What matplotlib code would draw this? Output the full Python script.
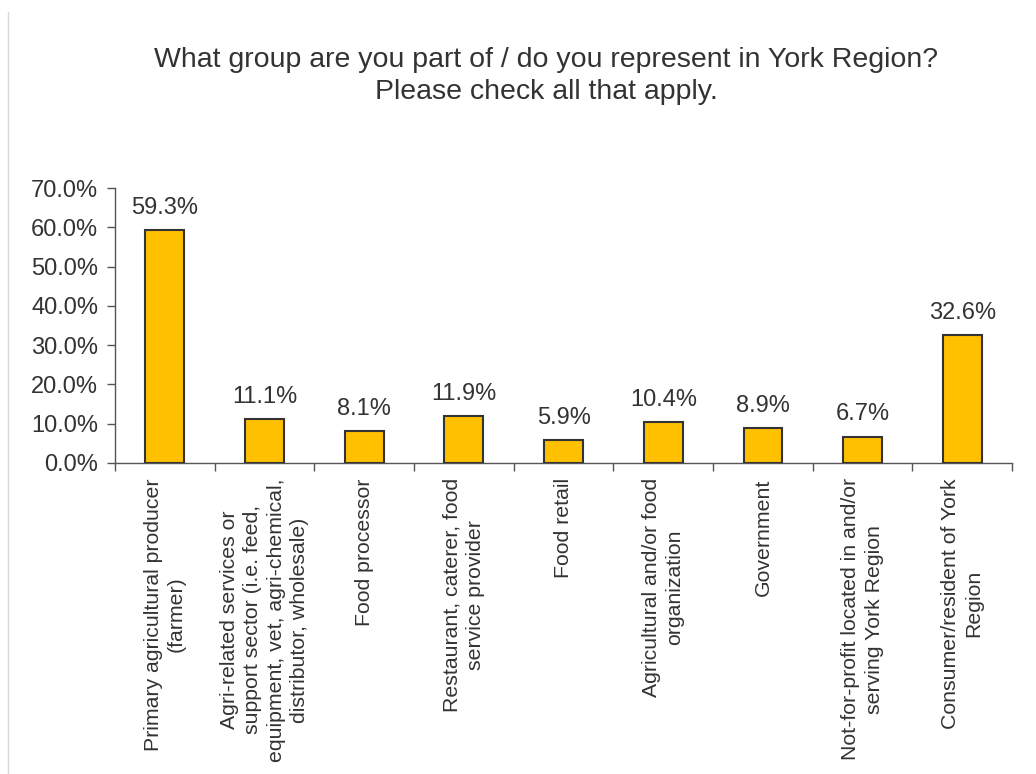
import numpy as np
import matplotlib.pyplot as plt
from matplotlib.lines import Line2D

plt.rcParams['font.family'] = ['Liberation Sans', 'DejaVu Sans']

# data
categories = [
    "Primary agricultural producer\n(farmer)",
    "Agri-related services or\nsupport sector (i.e. feed,\nequipment, vet, agri-chemical,\ndistributor, wholesale)",
    "Food processor",
    "Restaurant, caterer, food\nservice provider",
    "Food retail",
    "Agricultural and/or food\norganization",
    "Government",
    "Not-for-profit located in and/or\nserving York Region",
    "Consumer/resident of York\nRegion",
]
values = [59.3, 11.1, 8.1, 11.9, 5.9, 10.4, 8.9, 6.7, 32.6]
yticks = [0, 10, 20, 30, 40, 50, 60, 70]

fig = plt.figure(figsize=(10.36, 7.74), dpi=100)
ax = fig.add_axes([0.111, 0.402, 0.866, 0.355])

x = np.arange(len(values))
ax.bar(x, values, width=0.39, color='#FFC000', edgecolor='#333333', linewidth=1.5, zorder=3)

for xi, v in zip(x, values):
    ax.annotate('%.1f%%' % v, (xi, v), xytext=(0, 8), textcoords='offset points',
                ha='center', va='bottom', fontsize=17, color='#333333')

ax.set_xlim(-0.5, len(values) - 0.5)
ax.set_ylim(0, 70)
ax.set_yticks(yticks)
ax.set_yticklabels(['%.1f%%' % t for t in yticks], fontsize=17, color='#333333')

# category labels between tick marks at boundaries
ax.set_xticks(np.arange(len(values) + 1) - 0.5)
ax.set_xticklabels([])
ax.set_xticks(x, minor=True)
ax.set_xticklabels(categories, minor=True, rotation=90, ha='center', va='top',
                   multialignment='center', fontsize=15.3, color='#333333', linespacing=1.3)
ax.tick_params(axis='x', which='minor', length=0, pad=11)
ax.tick_params(axis='x', which='major', length=6, width=1, color='#555555', direction='out')
ax.tick_params(axis='y', length=6, width=1, color='#555555', direction='out', pad=6)

for s in ['top', 'right']:
    ax.spines[s].set_visible(False)
for s in ['left', 'bottom']:
    ax.spines[s].set_color('#555555')
    ax.spines[s].set_linewidth(1)

fig.text(0.527, 0.902, "What group are you part of / do you represent in York Region?\nPlease check all that apply.",
         ha='center', va='center', fontsize=20.5, color='#333333', linespacing=1.32)

# faint border on the left edge
fig.add_artist(Line2D([0.008, 0.008], [0.0, 0.985], transform=fig.transFigure,
                      color='#d9d9d9', linewidth=1))

fig.savefig('out.png', dpi=100)
